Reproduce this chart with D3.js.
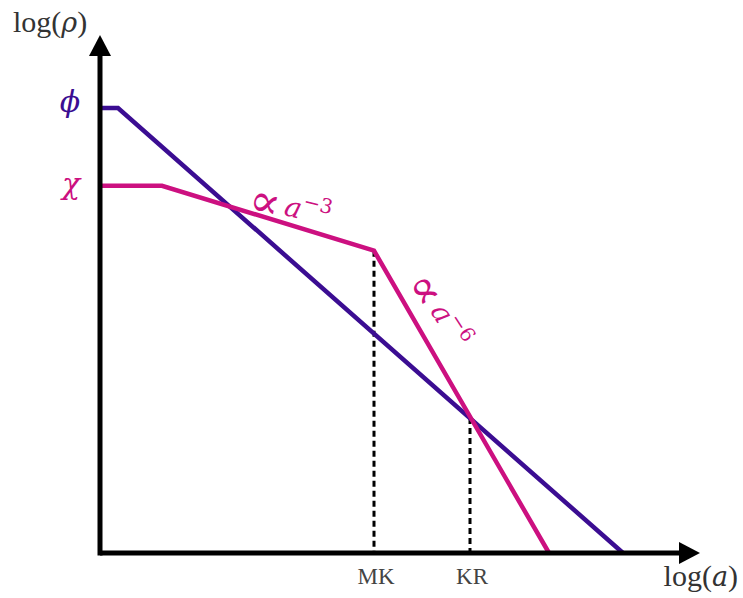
<!DOCTYPE html>
<html>
<head>
  <meta charset="UTF-8">
  <script src="https://d3js.org/d3.v7.min.js"></script>
  <style>
    body { margin: 0; background: #fff; }
    text { font-family: "Liberation Serif", "DejaVu Serif", serif; }
    .gr { font-family: "DejaVu Serif", serif; }
  </style>
</head>
<body>
  <div id="chart"></div>
  <script>
    // log(a) / log(rho) in arbitrary units
    const phiA   = [0, 0.36, 10.46];
    const phiRho = [8.64, 8.64, 0];
    const chiA   = [0, 1.24, 5.48, 8.98];
    const chiRho = [7.13, 7.13, 5.87, 0];
    const epochs   = ["MK", "KR"];
    const epochA   = [5.48, 7.4];
    const epochRho = [5.87, 2.62];

    const W = 743, H = 598;
    const blue = "#3b0d92", pink = "#cc1080";

    const x = d3.scaleLinear().domain([0, 12]).range([100, 700]);
    const y = d3.scaleLinear().domain([0, 10]).range([553, 38]);

    const svg = d3.select("#chart").append("svg")
      .attr("width", W).attr("height", H);

    // dashed drop lines
    svg.selectAll(".drop")
      .data(epochA)
      .enter().append("line")
      .attr("x1", d => x(d)).attr("x2", d => x(d))
      .attr("y1", (d, i) => y(epochRho[i])).attr("y2", y(0))
      .attr("stroke", "#000").attr("stroke-width", 3)
      .attr("stroke-dasharray", "6,4");

    const line = d3.line().x(d => x(d[0])).y(d => y(d[1]));

    svg.append("path")
      .datum(phiA.map((a, i) => [a, phiRho[i]]))
      .attr("d", line).attr("fill", "none")
      .attr("stroke", blue).attr("stroke-width", 4.5);

    svg.append("path")
      .datum(chiA.map((a, i) => [a, chiRho[i]]))
      .attr("d", line).attr("fill", "none")
      .attr("stroke", pink).attr("stroke-width", 4.5);

    // axes with arrow heads
    const x0 = x(0), y0 = y(0), xEnd = x(12), yEnd = y(10);
    svg.append("line").attr("x1", x0).attr("x2", xEnd - 15)
      .attr("y1", y0).attr("y2", y0)
      .attr("stroke", "#000").attr("stroke-width", 5);
    svg.append("line").attr("x1", x0).attr("x2", x0)
      .attr("y1", y0 + 2.5).attr("y2", yEnd + 15)
      .attr("stroke", "#000").attr("stroke-width", 5);
    svg.append("path")
      .attr("d", `M${xEnd},${y0} L${xEnd - 21},${y0 - 11} L${xEnd - 21},${y0 + 11} Z`)
      .attr("fill", "#000");
    svg.append("path")
      .attr("d", `M${x0},${yEnd - 3} L${x0 - 11},${yEnd + 18} L${x0 + 11},${yEnd + 18} Z`)
      .attr("fill", "#000");

    // axis titles
    const yt = svg.append("text").attr("x", 13).attr("y", 32)
      .attr("font-size", 30).attr("fill", "#333");
    yt.append("tspan").text("log(");
    yt.append("tspan").attr("class", "gr").attr("font-style", "italic").attr("font-size", 27).text("ρ");
    yt.append("tspan").text(")");

    const xt = svg.append("text").attr("x", 738).attr("y", 586)
      .attr("text-anchor", "end")
      .attr("font-size", 30).attr("fill", "#333");
    xt.append("tspan").text("log(");
    xt.append("tspan").attr("class", "gr").attr("font-style", "italic").attr("font-size", 27).text("a");
    xt.append("tspan").text(")");

    // epoch labels
    svg.selectAll(".ep")
      .data(epochs)
      .enter().append("text")
      .attr("x", (d, i) => x(epochA[i]) + 2).attr("y", 584)
      .attr("text-anchor", "middle")
      .attr("font-size", 23).attr("fill", "#444")
      .text(d => d);

    // species labels on the y axis
    svg.append("text").attr("class", "gr").attr("x", 70).attr("y", y(phiRho[0]) + 4)
      .attr("text-anchor", "middle").attr("font-style", "italic")
      .attr("font-size", 30).attr("fill", blue).text("ϕ");
    svg.append("text").attr("class", "gr").attr("x", 71).attr("y", y(chiRho[0]) + 8)
      .attr("text-anchor", "middle").attr("font-style", "italic")
      .attr("font-size", 30).attr("fill", pink).text("χ");

    // slope labels
    function slopeLabel(px, py, angle, exp) {
      const t = svg.append("text")
        .attr("class", "gr")
        .attr("transform", `translate(${px},${py}) rotate(${angle})`)
        .attr("font-size", 28).attr("fill", pink);
      t.append("tspan").attr("font-size", 46).attr("dy", 7).text("∝");
      t.append("tspan").attr("dx", 5).attr("dy", -7).attr("font-style", "italic").text("a");
      t.append("tspan").attr("dy", -12).attr("font-size", 20).text(exp);
    }
    slopeLabel(248, 206, 14, "−3");
    slopeLabel(410, 281, 57, "−6");
  </script>
</body>
</html>
